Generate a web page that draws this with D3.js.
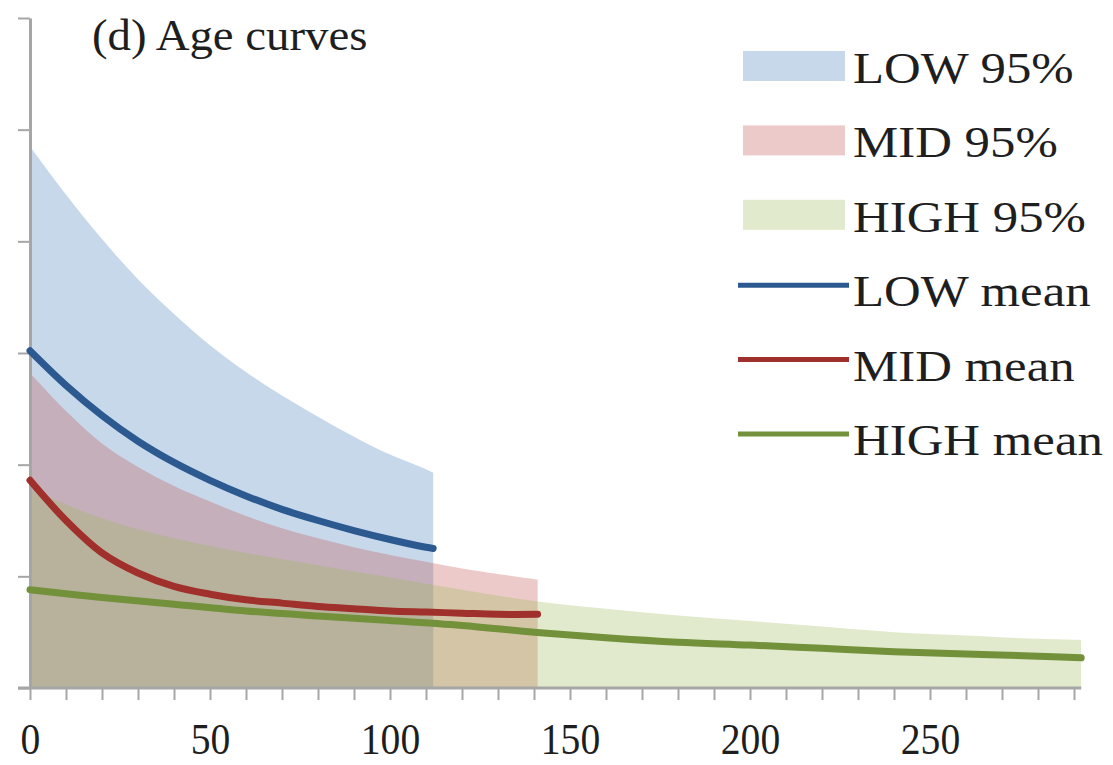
<!DOCTYPE html>
<html>
<head>
<meta charset="utf-8">
<title>(d) Age curves</title>
<script src="https://cdn.jsdelivr.net/npm/d3@7"></script>
<style>
  html, body { margin: 0; padding: 0; background: #fff; overflow: hidden; }
  svg { display: block; }
</style>
</head>
<body>
<div id="chart"></div>
<script>
// Age curves: 95% bands and mean curves for LOW / MID / HIGH

// LOW group (ends at age 112)
const ageLow   = [0, 10, 20, 30, 40, 50, 60, 70, 80, 90, 100, 110, 112];
const lowUpper = [4.85, 4.42, 4.02, 3.66, 3.35, 3.07, 2.83, 2.62, 2.43, 2.25, 2.09, 1.96, 1.93];
const lowMean  = [3.02, 2.71, 2.44, 2.21, 2.02, 1.86, 1.72, 1.60, 1.50, 1.41, 1.33, 1.26, 1.25];

// MID group (ends at age 141)
const ageMid   = [0, 10, 20, 30, 40, 50, 60, 70, 80, 90, 100, 110, 120, 130, 141];
const midUpper = [2.82, 2.48, 2.19, 1.98, 1.81, 1.67, 1.54, 1.43, 1.34, 1.26, 1.19, 1.13, 1.07, 1.02, 0.97];
const midMean  = [1.86, 1.50, 1.21, 1.03, 0.91, 0.84, 0.79, 0.76, 0.73, 0.71, 0.69, 0.68, 0.67, 0.66, 0.66];

// HIGH group (ends at age 292)
const ageHigh   = [0, 20, 40, 60, 80, 100, 120, 140, 160, 180, 200, 220, 240, 260, 280, 292];
const highUpper = [1.78, 1.52, 1.34, 1.21, 1.10, 0.99, 0.88, 0.78, 0.71, 0.65, 0.60, 0.55, 0.50, 0.47, 0.44, 0.43];
const highMean  = [0.88, 0.81, 0.75, 0.69, 0.645, 0.605, 0.56, 0.50, 0.45, 0.41, 0.385, 0.355, 0.325, 0.305, 0.285, 0.27];

// axis ticks
const xTicks = d3.range(0, 291, 10);
const xLabels = [0, 50, 100, 150, 200, 250];
const yTicks = [0, 1, 2, 3, 4, 5, 6];

const legendLabels = ['LOW 95%', 'MID 95%', 'HIGH 95%', 'LOW mean', 'MID mean', 'HIGH mean'];

const width = 1113, height = 765;

const colors = {
    lowBand: 'rgba(79,129,189,0.31)',
    midBand: 'rgba(192,80,77,0.30)',
    highBand: 'rgba(155,187,89,0.30)',
    lowLine: '#2c5a90',
    midLine: '#a0302b',
    highLine: '#72913a',
    axis: '#a6a6a6',
    text: '#1e1e1e'
};

const svg = d3.select('#chart').append('svg')
    .attr('width', width)
    .attr('height', height);

const x = d3.scaleLinear().domain([0, 292]).range([30, 1081.2]);
const y = d3.scaleLinear().domain([0, 6]).range([688, 18]);

const font = "'Liberation Serif', 'Times New Roman', serif";

// zip an age array with a value array
function pts(ages, vals) {
    return ages.map((a, i) => ({ age: a, v: vals[i] }));
}

const curve = d3.curveCatmullRom.alpha(0.5);

const area = d3.area()
    .curve(curve)
    .x(d => x(d.age))
    .y0(y(0))
    .y1(d => y(d.v));

const line = d3.line()
    .curve(curve)
    .x(d => x(d.age))
    .y(d => y(d.v));

// bands
const bands = [
    { data: pts(ageLow, lowUpper), fill: colors.lowBand },
    { data: pts(ageMid, midUpper), fill: colors.midBand },
    { data: pts(ageHigh, highUpper), fill: colors.highBand }
];
svg.append('g').selectAll('path')
    .data(bands)
    .enter().append('path')
    .attr('d', d => area(d.data))
    .attr('fill', d => d.fill);

// axes
const xAxis = svg.append('g')
    .attr('transform', `translate(0,${y(0)})`)
    .call(d3.axisBottom(x)
        .tickValues(xTicks)
        .tickSize(12)
        .tickSizeOuter(0)
        .tickFormat(d => xLabels.includes(d) ? d : ''));

xAxis.select('.domain')
    .attr('stroke', colors.axis)
    .attr('stroke-width', 3)
    .attr('d', `M18,0H${x(292)}`);
xAxis.selectAll('.tick line')
    .attr('stroke', colors.axis)
    .attr('stroke-width', 2);
xAxis.selectAll('.tick text')
    .attr('y', 66)
    .attr('dy', null)
    .attr('transform', 'scale(0.9,1)')
    .attr('fill', colors.text)
    .style('font-family', font)
    .style('font-size', '44px');

const yAxis = svg.append('g')
    .attr('transform', `translate(${x(0)},0)`)
    .call(d3.axisLeft(y)
        .tickValues(yTicks)
        .tickSize(12)
        .tickSizeOuter(0)
        .tickFormat(''));

yAxis.select('.domain')
    .attr('stroke', colors.axis)
    .attr('stroke-width', 3);
yAxis.selectAll('.tick line')
    .attr('stroke', colors.axis)
    .attr('stroke-width', 2);

// mean curves
const means = [
    { data: pts(ageLow, lowMean), stroke: colors.lowLine },
    { data: pts(ageMid, midMean), stroke: colors.midLine },
    { data: pts(ageHigh, highMean), stroke: colors.highLine }
];
svg.append('g').selectAll('path')
    .data(means)
    .enter().append('path')
    .attr('d', d => line(d.data))
    .attr('fill', 'none')
    .attr('stroke', d => d.stroke)
    .attr('stroke-width', 7)
    .attr('stroke-linecap', 'round');

// title
svg.append('text')
    .attr('transform', 'translate(92,50) scale(1.04,1)')
    .attr('fill', colors.text)
    .style('font-family', font)
    .style('font-size', '45px')
    .text('(d) Age curves');

// legend
const legendKeys = [
    { type: 'band', color: colors.lowBand },
    { type: 'band', color: colors.midBand },
    { type: 'band', color: colors.highBand },
    { type: 'line', color: colors.lowLine },
    { type: 'line', color: colors.midLine },
    { type: 'line', color: colors.highLine }
];

const legend = svg.append('g')
    .selectAll('g')
    .data(legendLabels)
    .enter().append('g')
    .attr('transform', (d, i) => `translate(0,${83 + i * 74.4})`);

legend.each(function(d, i) {
    const g = d3.select(this);
    const key = legendKeys[i];
    if (key.type === 'band') {
        g.append('rect')
            .attr('x', 743)
            .attr('y', -32)
            .attr('width', 102)
            .attr('height', 30)
            .attr('fill', key.color);
    } else {
        g.append('line')
            .attr('x1', 738)
            .attr('x2', 849)
            .attr('y1', -21)
            .attr('y2', -21)
            .attr('stroke', key.color)
            .attr('stroke-width', 5);
    }
    g.append('text')
        .attr('transform', 'translate(853,0) scale(1.13,1)')
        .attr('fill', colors.text)
        .style('font-family', font)
        .style('font-size', '45px')
        .text(d);
});
</script>
</body>
</html>
